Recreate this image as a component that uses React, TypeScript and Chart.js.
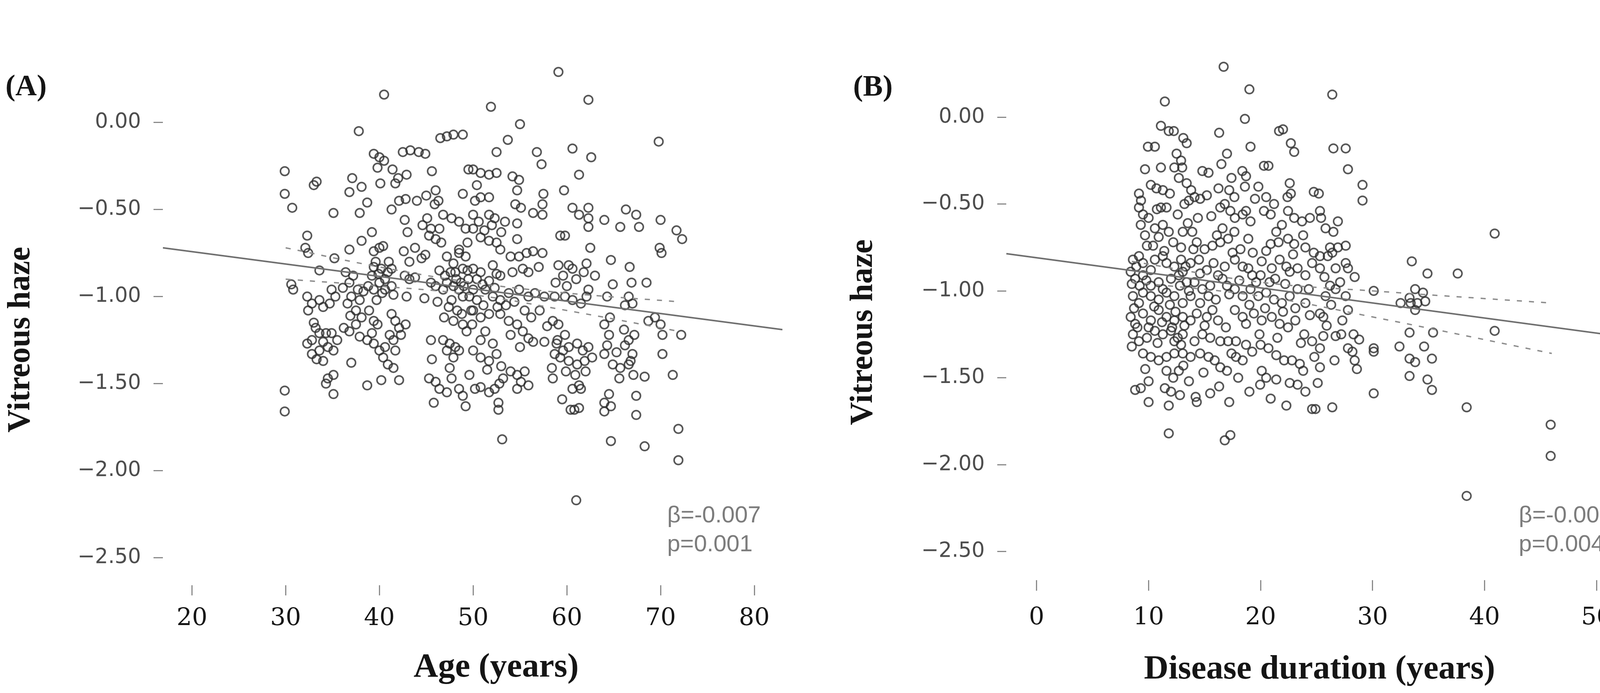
import React, { useEffect, useRef } from "react";
import { Chart, registerables } from "chart.js";

Chart.register(...registerables);

// ---------------- Panel A: Age (years) vs Vitreous haze ----------------
const agePointsA: number[][] = [
  [40.5, 0.16], [37.8, -0.05], [29.9, -0.28], [29.9, -0.41], [30.7, -0.49], [33.3, -0.34], [33.0, -0.36],
  [37.1, -0.32], [36.8, -0.40], [38.1, -0.37], [38.7, -0.46], [37.9, -0.52], [35.1, -0.52], [39.4, -0.18],
  [40.0, -0.20], [39.8, -0.26], [40.5, -0.22], [40.1, -0.35], [41.4, -0.27], [42.0, -0.32], [42.9, -0.30],
  [41.7, -0.35], [42.5, -0.17], [43.3, -0.16], [44.2, -0.17], [44.9, -0.18], [45.6, -0.28], [46.5, -0.09],
  [47.2, -0.08], [47.9, -0.07], [48.9, -0.07], [49.5, -0.27], [48.9, -0.41], [46.0, -0.39], [46.3, -0.45],
  [41.3, -0.50], [42.1, -0.45], [42.8, -0.44], [44.0, -0.45], [42.7, -0.56], [43.0, -0.63], [45.1, -0.55],
  [45.3, -0.65], [46.0, -0.67], [46.4, -0.61], [45.5, -0.61], [46.8, -0.53], [47.7, -0.55], [48.5, -0.57],
  [49.2, -0.61], [49.4, -0.69], [48.5, -0.75], [48.9, -0.84], [32.3, -0.65], [32.1, -0.72], [32.4, -0.75],
  [30.6, -0.93], [30.8, -0.96], [39.2, -0.63], [38.1, -0.68], [36.8, -0.73], [35.2, -0.78], [33.6, -0.85],
  [39.4, -0.74], [40.0, -0.72], [40.4, -0.71], [39.6, -0.80], [40.2, -0.84], [39.2, -0.88], [40.0, -0.92],
  [40.9, -0.86], [41.3, -0.84], [39.4, -0.96], [40.6, -0.96], [41.3, -0.94], [42.6, -0.74], [43.8, -0.72],
  [44.5, -0.78], [44.9, -0.76], [43.2, -0.80], [42.7, -0.88], [43.2, -0.90], [43.8, -0.89], [42.9, -1.00],
  [44.8, -1.01], [46.4, -0.85], [45.5, -0.92], [46.0, -0.94], [46.8, -0.96], [47.2, -0.92], [47.9, -0.94],
  [48.5, -0.96], [48.9, -1.00], [47.7, -1.02], [48.3, -1.08], [47.9, -1.14], [48.9, -1.16], [36.4, -0.86],
  [36.8, -0.92], [37.2, -0.88], [37.7, -0.96], [37.0, -1.00], [37.9, -1.02], [36.6, -1.04], [37.5, -1.08],
  [34.9, -0.96], [35.3, -1.00], [34.7, -1.04], [32.3, -1.00], [32.8, -1.04], [32.4, -1.08], [33.6, -1.02],
  [34.0, -1.06], [33.2, -1.18], [33.6, -1.21], [34.3, -1.21], [34.9, -1.21], [32.8, -1.25], [32.3, -1.27],
  [32.8, -1.33], [33.6, -1.31], [34.5, -1.29], [35.1, -1.31], [34.0, -1.37], [36.2, -1.18], [36.8, -1.20],
  [37.9, -1.23], [38.7, -1.25], [39.4, -1.27], [37.5, -1.16], [38.1, -1.12], [37.0, -1.38], [38.9, -1.08],
  [39.4, -1.14], [39.8, -1.16], [39.2, -1.21], [41.3, -1.10], [41.7, -1.14], [42.1, -1.18], [42.8, -1.16],
  [41.1, -1.22], [41.5, -1.25], [42.3, -1.22], [40.0, -1.31], [40.4, -1.35], [40.9, -1.39], [41.5, -1.41],
  [40.6, -1.29], [41.7, -1.31], [34.5, -1.47], [35.1, -1.45], [34.3, -1.50], [35.1, -1.56], [38.7, -1.51],
  [40.2, -1.48], [42.1, -1.48], [29.9, -1.54], [29.9, -1.66], [45.5, -1.25], [45.6, -1.36], [45.3, -1.47],
  [46.0, -1.49], [46.4, -1.53], [45.8, -1.61], [46.8, -1.25], [47.5, -1.27], [48.1, -1.29], [47.2, -1.31],
  [48.5, -1.31], [47.9, -1.35], [47.5, -1.41], [47.7, -1.47], [48.5, -1.53], [48.9, -1.57], [49.2, -1.63],
  [47.2, -1.55], [46.6, -0.69], [47.2, -0.77], [47.9, -0.81], [48.5, -0.73], [49.2, -0.77], [49.4, -0.85],
  [48.1, -0.86], [48.7, -0.92], [49.6, -1.00], [49.8, -1.08],
  [39.4, -0.83], [39.9, -0.87], [40.6, -0.90], [41.0, -0.80], [40.3, -0.98], [39.7, -1.02], [41.5, -0.99],
  [38.8, -0.94], [47.0, -0.88], [47.6, -0.86], [48.2, -0.90], [49.0, -0.94], [49.5, -0.90], [47.4, -1.06],
  [48.8, -1.10], [49.3, -1.20], [46.2, -1.03], [46.9, -1.12], [45.0, -0.42], [45.9, -0.47], [44.6, -0.59],
  [36.1, -0.95], [38.3, -0.97], [36.9, -1.11], [33.0, -1.15], [34.0, -1.26], [35.5, -1.25], [33.3, -1.36],
  [59.1, 0.29], [62.3, 0.13], [51.9, 0.09], [55.0, -0.01], [53.7, -0.10], [52.5, -0.17], [60.6, -0.15],
  [62.6, -0.20], [56.8, -0.17], [57.3, -0.24], [61.3, -0.30], [69.8, -0.11], [59.7, -0.39], [50.0, -0.27],
  [50.8, -0.29], [51.7, -0.30], [52.5, -0.29], [50.4, -0.36], [50.8, -0.43], [51.7, -0.43], [50.2, -0.45],
  [54.2, -0.31], [54.9, -0.33], [54.7, -0.39], [54.5, -0.47], [55.1, -0.49], [57.5, -0.41], [57.4, -0.47],
  [57.4, -0.53], [56.4, -0.52], [60.6, -0.49], [61.3, -0.53], [62.3, -0.49], [62.3, -0.55], [62.3, -0.60],
  [62.5, -0.72], [64.0, -0.56], [65.7, -0.60], [66.3, -0.50], [67.4, -0.53], [67.7, -0.60], [70.0, -0.56],
  [71.7, -0.62], [72.3, -0.67], [69.9, -0.72], [70.1, -0.75], [59.3, -0.65], [59.8, -0.65], [50.0, -0.53],
  [51.7, -0.53], [52.3, -0.55], [53.4, -0.57], [54.7, -0.58], [50.0, -0.61], [50.8, -0.66], [51.7, -0.68],
  [52.5, -0.69], [52.9, -0.73], [54.7, -0.67], [54.0, -0.77], [54.9, -0.77], [55.7, -0.75], [56.4, -0.74],
  [57.4, -0.75], [50.0, -0.84], [50.8, -0.86], [52.1, -0.82], [52.5, -0.87], [52.9, -0.88], [54.2, -0.86],
  [55.3, -0.84], [55.9, -0.86], [57.0, -0.83], [59.1, -0.82], [59.6, -0.88], [60.2, -0.82], [60.6, -0.84],
  [62.1, -0.81], [64.7, -0.79], [66.7, -0.83], [68.5, -0.92], [66.9, -0.92], [64.9, -0.93], [64.3, -1.00],
  [62.3, -0.96], [62.1, -1.00], [50.0, -0.96], [51.3, -0.96], [52.1, -1.00], [52.9, -1.02], [53.8, -0.98],
  [54.9, -0.96], [55.9, -1.00], [56.6, -0.98], [57.6, -1.00], [58.7, -1.00], [59.8, -1.00], [60.6, -1.02],
  [61.5, -1.04], [66.2, -1.05], [66.6, -1.00], [67.0, -1.04], [68.7, -1.14], [69.4, -1.12], [70.0, -1.16],
  [70.2, -1.22], [72.2, -1.22], [50.0, -1.08], [50.8, -1.12], [51.7, -1.10], [52.9, -1.10], [53.8, -1.14],
  [54.7, -1.16], [54.0, -1.22], [55.3, -1.20], [55.9, -1.24], [56.4, -1.26], [57.6, -1.26], [58.5, -1.14],
  [59.1, -1.16], [59.8, -1.22], [58.9, -1.27], [59.6, -1.31], [60.2, -1.29], [61.1, -1.27], [61.7, -1.31],
  [62.3, -1.29], [62.7, -1.35], [61.9, -1.37], [61.1, -1.39], [60.2, -1.37], [59.3, -1.35], [58.7, -1.33],
  [64.0, -1.16], [64.5, -1.22], [64.3, -1.28], [64.0, -1.33], [64.9, -1.39], [65.7, -1.41], [66.6, -1.39],
  [67.0, -1.33], [66.6, -1.25], [67.2, -1.22], [66.2, -1.28], [66.8, -1.37], [70.2, -1.33], [71.3, -1.45],
  [68.3, -1.46], [50.0, -1.31], [50.8, -1.35], [51.7, -1.37], [52.5, -1.33], [52.1, -1.27], [50.8, -1.25],
  [51.3, -1.20], [49.6, -1.45], [50.2, -1.53], [50.8, -1.52], [51.7, -1.55], [52.3, -1.53], [52.7, -1.61],
  [52.7, -1.65], [53.2, -1.47], [54.0, -1.43], [54.7, -1.45], [55.1, -1.49], [55.5, -1.43], [55.9, -1.51],
  [54.7, -1.53], [58.5, -1.47], [60.6, -1.53], [61.3, -1.51], [61.5, -1.53], [59.5, -1.59], [60.4, -1.65],
  [60.8, -1.65], [61.3, -1.64], [64.0, -1.61], [64.5, -1.56], [64.7, -1.63], [64.0, -1.66], [67.4, -1.57],
  [67.4, -1.68], [53.1, -1.82], [64.7, -1.83], [68.3, -1.86], [71.9, -1.76], [71.9, -1.94], [61.0, -2.17],
  [50.4, -0.90], [51.0, -0.93], [51.7, -0.91], [52.3, -0.95], [50.4, -1.02], [51.1, -1.05], [52.6, -1.06],
  [49.9, -1.16], [53.5, -1.05], [54.4, -1.03], [55.5, -1.08], [56.2, -1.12], [57.1, -1.08], [57.9, -1.17],
  [55.0, -1.29], [58.4, -1.41], [59.9, -1.43], [60.9, -1.45], [62.0, -1.43], [59.0, -1.25], [64.6, -1.12],
  [65.3, -1.32], [66.1, -1.19], [65.6, -1.47], [67.1, -1.45], [58.8, -0.92], [60.0, -0.94], [61.0, -0.90],
  [61.8, -0.86], [63.0, -0.88], [50.6, -0.57], [51.2, -0.62], [53.0, -0.63], [52.0, -0.59], [51.5, -1.42],
  [53.0, -1.40], [52.8, -1.50],
];
const fitXA = [16.9, 83.0];
const fitYA = [-0.72, -1.19];
const ciXA = [30, 40, 50, 60, 72];
const ciUpA = [-0.72, -0.83, -0.92, -0.98, -1.03];
const ciLoA = [-0.90, -0.94, -0.99, -1.08, -1.20];
const xTicksA = [20, 30, 40, 50, 60, 70, 80];
const statsA = ["\u03b2=-0.007", "p=0.001"];

// ---------------- Panel B: Disease duration (years) vs Vitreous haze ----------------
const durationPointsB: number[][] = [
  [16.7, 0.29], [19.0, 0.16], [11.45, 0.09], [18.6, -0.01], [16.3, -0.09], [11.1, -0.05], [11.8, -0.08],
  [12.25, -0.08], [13.1, -0.12], [13.4, -0.15], [9.94, -0.17], [10.56, -0.17], [19.1, -0.17], [21.65, -0.08],
  [22.0, -0.07], [22.7, -0.15], [23.0, -0.20], [17.0, -0.21], [16.5, -0.27], [20.3, -0.28], [20.7, -0.28],
  [12.5, -0.21], [12.9, -0.25], [12.3, -0.29], [13.0, -0.29], [12.7, -0.35], [13.4, -0.38], [13.8, -0.42],
  [13.6, -0.48], [13.2, -0.50], [14.1, -0.46], [14.6, -0.47], [9.68, -0.30], [11.1, -0.29], [14.8, -0.31],
  [15.35, -0.32], [10.2, -0.39], [10.7, -0.41], [11.27, -0.42], [17.4, -0.35], [18.37, -0.31], [18.7, -0.34],
  [18.6, -0.40], [16.24, -0.41], [17.2, -0.42], [17.66, -0.46], [22.6, -0.38], [22.7, -0.44], [24.75, -0.43],
  [9.14, -0.44], [9.32, -0.48], [9.14, -0.52], [9.5, -0.56], [10.74, -0.53], [11.1, -0.52], [11.6, -0.52],
  [16.4, -0.52], [16.8, -0.50], [17.3, -0.54], [17.7, -0.58], [18.4, -0.56], [18.7, -0.54], [19.1, -0.60],
  [20.3, -0.54], [20.9, -0.56], [20.5, -0.46], [21.2, -0.50], [22.45, -0.54], [23.0, -0.58], [23.7, -0.60],
  [24.4, -0.58], [9.3, -0.62], [9.68, -0.68], [9.85, -0.74], [10.56, -0.64], [11.27, -0.62], [11.8, -0.66],
  [16.1, -0.68], [16.4, -0.72], [17.1, -0.70], [16.6, -0.64], [17.66, -0.66], [13.05, -0.66], [13.9, -0.66],
  [14.3, -0.72], [15.0, -0.76], [15.7, -0.74], [17.5, -0.78], [20.9, -0.73], [21.6, -0.72], [22.45, -0.70],
  [23.0, -0.73], [24.0, -0.75], [24.75, -0.78], [8.6, -0.82], [9.14, -0.80], [9.5, -0.84], [10.2, -0.88],
  [10.56, -0.82], [11.27, -0.80], [11.6, -0.84], [12.3, -0.86], [12.9, -0.82], [13.75, -0.84], [14.5, -0.82],
  [15.2, -0.88], [8.4, -0.89], [8.8, -0.93], [9.5, -0.91], [10.2, -0.97], [10.9, -0.95], [11.27, -0.99],
  [12.0, -0.93], [12.7, -0.91], [13.05, -0.89], [13.4, -0.95], [14.1, -0.95], [14.8, -0.99], [15.5, -0.97],
  [16.2, -0.91], [16.6, -0.93], [17.7, -0.82], [18.4, -0.86], [18.9, -0.87], [19.25, -0.91], [20.0, -0.91],
  [20.1, -0.83], [21.0, -0.87], [21.7, -0.82], [22.3, -0.86], [22.6, -0.89], [23.3, -0.87], [24.0, -0.91],
  [24.6, -0.84], [8.6, -1.03], [9.14, -1.07], [9.5, -1.01], [10.2, -1.03], [10.9, -1.05], [11.6, -1.01],
  [12.3, -1.03], [13.05, -1.07], [13.75, -1.03], [14.6, -1.07], [15.35, -1.03], [17.0, -0.97], [17.7, -0.99],
  [18.4, -1.03], [19.1, -0.99], [19.8, -1.03], [20.5, -1.01], [21.2, -1.05], [21.9, -1.07], [22.6, -1.03],
  [23.3, -0.99], [24.0, -1.07], [8.4, -1.15], [8.8, -1.19], [9.5, -1.13], [10.2, -1.17], [10.9, -1.11],
  [11.6, -1.15], [12.3, -1.17], [13.05, -1.15], [13.75, -1.17], [8.6, -1.25], [9.14, -1.29], [9.85, -1.27],
  [10.56, -1.23], [11.27, -1.25], [12.0, -1.23], [12.3, -1.29], [13.05, -1.25], [14.1, -1.29], [14.8, -1.25],
  [15.5, -1.27], [15.2, -1.15], [15.7, -1.11], [16.2, -1.17], [17.7, -1.11], [18.4, -1.15], [18.7, -1.19],
  [19.4, -1.13], [20.1, -1.17], [21.0, -1.15], [21.7, -1.19], [22.45, -1.21], [23.1, -1.17], [23.9, -1.25],
  [24.6, -1.29], [16.4, -1.29], [17.1, -1.29], [17.8, -1.29], [18.7, -1.31], [19.25, -1.35], [20.0, -1.31],
  [20.7, -1.33], [21.4, -1.37], [22.1, -1.40], [22.8, -1.40], [23.5, -1.42], [9.5, -1.36], [10.2, -1.38],
  [10.9, -1.40], [11.6, -1.38], [12.3, -1.36], [13.05, -1.36], [13.75, -1.38], [14.6, -1.36], [15.35, -1.38],
  [15.9, -1.40], [16.4, -1.44], [17.0, -1.46], [17.8, -1.38], [18.4, -1.40], [11.6, -1.46], [12.2, -1.50],
  [12.7, -1.46], [13.6, -1.52], [8.8, -1.57], [9.3, -1.56], [10.0, -1.52], [11.45, -1.56], [12.0, -1.58],
  [11.8, -1.66], [10.0, -1.64], [14.2, -1.61], [14.3, -1.64], [17.2, -1.64], [19.96, -1.54], [20.9, -1.62],
  [21.4, -1.51], [22.3, -1.66], [23.3, -1.54], [24.0, -1.58], [24.6, -1.68], [20.1, -1.46], [20.5, -1.50],
  [11.8, -1.82], [16.8, -1.86], [17.3, -1.83],
  [8.5, -0.96], [8.9, -0.86], [9.2, -0.97], [8.7, -1.10], [9.0, -1.21], [8.5, -1.32], [9.8, -0.94],
  [10.5, -1.09], [10.0, -1.21], [10.8, -1.30], [11.2, -1.18], [11.9, -1.08], [12.1, -1.21], [12.6, -1.27],
  [12.9, -1.31], [12.4, -1.12], [12.8, -0.97], [13.3, -0.86], [13.6, -1.00], [13.2, -1.20], [14.3, -1.13],
  [14.0, -0.76], [13.5, -0.61], [12.6, -0.56], [11.9, -0.44], [10.4, -0.74], [10.9, -0.69], [11.4, -0.77],
  [12.2, -0.72], [12.9, -0.75], [14.6, -0.90], [15.0, -1.20], [15.8, -0.84], [16.0, -1.05], [16.8, -0.86],
  [17.2, -1.02], [16.9, -1.21], [17.4, -1.36], [18.1, -0.94], [18.2, -0.76], [18.9, -0.70], [19.3, -0.78],
  [19.6, -0.95], [19.0, -1.08], [19.9, -1.25], [20.4, -1.10], [20.8, -0.95], [20.5, -0.77], [21.4, -0.66],
  [21.3, -0.93], [21.5, -1.27], [22.0, -1.12], [22.2, -0.96], [22.9, -0.79], [23.1, -1.10], [23.6, -1.30],
  [23.8, -0.68], [24.3, -0.99], [24.4, -1.14], [24.8, -1.38], [21.9, -0.62], [22.4, -0.46], [19.8, -0.40],
  [19.5, -0.47], [15.6, -0.57], [15.2, -0.45], [14.4, -0.58], [10.0, -0.58], [9.7, -1.45], [13.1, -1.43],
  [14.9, -1.47], [16.3, -1.55], [18.0, -1.50], [19.0, -1.58], [22.6, -1.53], [23.8, -1.46], [15.5, -1.59],
  [12.8, -1.60],
  [26.4, 0.13], [26.5, -0.18], [27.6, -0.18], [27.8, -0.30], [29.1, -0.39], [29.1, -0.48], [25.2, -0.44],
  [25.3, -0.54], [25.4, -0.58], [25.8, -0.64], [26.5, -0.66], [26.2, -0.75], [26.9, -0.75], [27.6, -0.74],
  [25.3, -0.80], [26.0, -0.80], [26.4, -0.78], [27.6, -0.84], [27.8, -0.87], [28.4, -0.92], [26.7, -0.87],
  [25.3, -0.87], [26.2, -0.97], [26.7, -0.99], [27.6, -1.03], [27.8, -1.11], [25.8, -1.03], [25.3, -1.13],
  [25.6, -1.15], [40.9, -0.67], [33.5, -0.83], [34.9, -0.90], [37.6, -0.90], [30.1, -1.00], [32.5, -1.07],
  [33.3, -1.04], [33.8, -0.99], [34.0, -1.07], [34.5, -1.01], [34.7, -1.06], [33.8, -1.11], [33.4, -1.07],
  [33.3, -1.24], [35.4, -1.24], [40.9, -1.23], [32.4, -1.32], [34.6, -1.32], [30.1, -1.33], [30.1, -1.35],
  [27.8, -1.33], [28.2, -1.35], [28.4, -1.40], [28.6, -1.45], [26.6, -1.40], [25.3, -1.44], [25.1, -1.53],
  [26.4, -1.67], [24.9, -1.68], [27.2, -1.25], [28.3, -1.25], [26.7, -1.26], [25.6, -1.26], [25.3, -1.33],
  [33.3, -1.39], [33.8, -1.41], [35.3, -1.39], [33.3, -1.49], [34.9, -1.51], [35.3, -1.57], [30.1, -1.59],
  [38.4, -1.67], [45.9, -1.77], [45.9, -1.95], [38.4, -2.18], [25.7, -0.92], [26.3, -1.08], [27.1, -0.95],
  [25.9, -1.20], [27.3, -1.17], [26.9, -0.60], [28.8, -1.28],
];
const fitXB = [-2.7, 53.1];
const fitYB = [-0.786, -1.27];
const ciXB = [8.5, 20, 30, 46];
const ciUpB = [-0.83, -0.95, -1.0, -1.07];
const ciLoB = [-0.95, -1.03, -1.15, -1.36];
const xTicksB = [0, 10, 20, 30, 40, 50];
const statsB = ["\u03b2=-0.009", "p=0.004"];

const yTicks = [0, -0.5, -1, -1.5, -2, -2.5];

type Spec = {
  left: number;
  width: number;
  points: number[][];
  fitX: number[];
  fitY: number[];
  ciX: number[];
  ciUp: number[];
  ciLo: number[];
  xMin: number;
  xMax: number;
  yMin: number;
  yMax: number;
  xTicks: number[];
  area: { left: number; right: number; top: number; bottom: number };
  xTick: { len: number; pad: number };
  yTick: { len: number; pad: number };
  label: string;
  labelPos: [number, number];
  yTitlePos: [number, number];
  xTitle: string;
  xTitlePos: [number, number];
  stats: string[];
  statsPos: [number, number, number];
};

const H = 1775;

const specA: Spec = {
  left: 0,
  width: 2100,
  points: agePointsA,
  fitX: fitXA,
  fitY: fitYA,
  ciX: ciXA,
  ciUp: ciUpA,
  ciLo: ciLoA,
  xMin: 16.9,
  xMax: 83.0,
  yMin: -2.658,
  yMax: 0.396,
  xTicks: xTicksA,
  area: { left: 417, right: 2003, top: 137, bottom: 1499 },
  xTick: { len: 26, pad: 23 },
  yTick: { len: 24, pad: 32 },
  label: "(A)",
  labelPos: [14, 244],
  yTitlePos: [54, 870],
  xTitle: "Age (years)",
  xTitlePos: [1270, 1733],
  stats: statsA,
  statsPos: [1708, 1338, 1412],
};

const specB: Spec = {
  left: 2100,
  width: 2090,
  points: durationPointsB,
  fitX: fitXB,
  fitY: fitYB,
  ciX: ciXB,
  ciUp: ciUpB,
  ciLo: ciLoB,
  xMin: -2.71,
  xMax: 53.06,
  yMin: -2.665,
  yMax: 0.508,
  xTicks: xTicksB,
  area: { left: 476, right: 2080, top: 74, bottom: 1486 },
  xTick: { len: 27, pad: 33 },
  yTick: { len: 23, pad: 32 },
  label: "(B)",
  labelPos: [84, 245],
  yTitlePos: [111, 851],
  xTitle: "Disease duration (years)",
  xTitlePos: [1278, 1738],
  stats: statsB,
  statsPos: [1788, 1338, 1412],
};

function fmtY(v: number): string {
  if (v === 0) return "0.00";
  return (v < 0 ? "\u2212" : "") + Math.abs(v).toFixed(2);
}

function Panel({ spec }: { spec: Spec }) {
  const ref = useRef<HTMLCanvasElement | null>(null);

  useEffect(() => {
    const canvas = ref.current;
    if (!canvas) return;
    const s = spec;
    const textPlugin = {
      id: "panelText",
      afterDraw(chart: any) {
        const ctx = chart.ctx as CanvasRenderingContext2D;
        ctx.save();
        ctx.fillStyle = "#151515";
        ctx.textBaseline = "alphabetic";
        ctx.textAlign = "left";
        ctx.font = 'bold 76px "Liberation Serif"';
        ctx.fillText(s.label, s.labelPos[0], s.labelPos[1]);

        ctx.textAlign = "center";
        ctx.font = 'bold 87px "Liberation Serif"';
        ctx.fillText(s.xTitle, s.xTitlePos[0], s.xTitlePos[1]);

        ctx.save();
        ctx.translate(s.yTitlePos[0], s.yTitlePos[1]);
        ctx.rotate(-Math.PI / 2);
        ctx.textBaseline = "middle";
        ctx.font = 'bold 82px "Liberation Serif"';
        ctx.fillText("Vitreous haze", 0, 0);
        ctx.restore();

        ctx.textAlign = "left";
        ctx.textBaseline = "alphabetic";
        ctx.fillStyle = "#7c7c7c";
        ctx.font = '60px "Liberation Sans"';
        ctx.fillText(s.stats[0], s.statsPos[0], s.statsPos[1]);
        ctx.fillText(s.stats[1], s.statsPos[0], s.statsPos[2]);
        ctx.restore();
      },
    };

    const toXY = (xs: number[], ys: number[]) => xs.map((x, i) => ({ x, y: ys[i] }));

    const chart = new Chart(canvas, {
      type: "scatter",
      data: {
        datasets: [
          {
            data: toXY(s.fitX, s.fitY),
            showLine: true,
            borderColor: "#6f6f6f",
            borderWidth: 4,
            pointRadius: 0,
            fill: false,
          } as any,
          {
            data: toXY(s.ciX, s.ciUp),
            showLine: true,
            borderColor: "#8c8c8c",
            borderWidth: 3.5,
            borderDash: [13, 18],
            tension: 0.4,
            pointRadius: 0,
            fill: false,
          } as any,
          {
            data: toXY(s.ciX, s.ciLo),
            showLine: true,
            borderColor: "#8c8c8c",
            borderWidth: 3.5,
            borderDash: [13, 18],
            tension: 0.4,
            pointRadius: 0,
            fill: false,
          } as any,
          {
            data: s.points.map(([x, y]) => ({ x, y })),
            showLine: false,
            pointStyle: "circle",
            pointRadius: 11,
            pointBorderWidth: 4,
            borderWidth: 4,
            pointBackgroundColor: "rgba(0,0,0,0)",
            backgroundColor: "rgba(0,0,0,0)",
            pointBorderColor: "rgba(45,45,45,0.8)",
            borderColor: "rgba(45,45,45,0.8)",
          } as any,
        ],
      },
      options: {
        animation: false,
        responsive: false,
        devicePixelRatio: 1,
        events: [],
        layout: {
          padding: { left: 0, top: s.area.top, right: s.width - s.area.right, bottom: 0 },
        },
        plugins: {
          legend: { display: false },
          tooltip: { enabled: false },
          title: { display: false },
        },
        scales: {
          x: {
            type: "linear",
            min: s.xMin,
            max: s.xMax,
            afterFit: (scale: any) => {
              scale.height = H - s.area.bottom;
            },
            afterBuildTicks: (scale: any) => {
              scale.ticks = s.xTicks.map((v) => ({ value: v }));
            },
            border: { display: false },
            grid: {
              display: true,
              drawOnChartArea: false,
              drawTicks: true,
              tickLength: s.xTick.len,
              tickColor: "#8a8a8a",
              tickWidth: 3,
              lineWidth: 3,
            },
            ticks: {
              autoSkip: false,
              maxRotation: 0,
              padding: s.xTick.pad,
              color: "#151515",
              font: { family: "DejaVu Serif", size: 62 },
              callback: (v: any) => String(v),
            },
          },
          y: {
            type: "linear",
            min: s.yMin,
            max: s.yMax,
            afterFit: (scale: any) => {
              scale.width = s.area.left;
            },
            afterBuildTicks: (scale: any) => {
              scale.ticks = yTicks.map((v) => ({ value: v }));
            },
            border: { display: false },
            grid: {
              display: true,
              drawOnChartArea: false,
              drawTicks: true,
              tickLength: s.yTick.len,
              tickColor: "#8a8a8a",
              tickWidth: 3,
              lineWidth: 3,
            },
            ticks: {
              autoSkip: false,
              padding: s.yTick.pad,
              color: "#4d4d4d",
              font: { family: "DejaVu Sans", size: 53 },
              callback: (v: any) => fmtY(Number(v)),
            },
          },
        },
      },
      plugins: [textPlugin],
    });
    return () => chart.destroy();
  }, [spec]);

  return (
    <canvas
      ref={ref}
      width={spec.width}
      height={H}
      style={{ position: "absolute", left: spec.left, top: 0, width: spec.width, height: H, display: "block" }}
    />
  );
}

export default function App() {
  return (
    <div
      style={{
        position: "absolute",
        left: 0,
        top: 0,
        width: 4190,
        height: H,
        background: "#ffffff",
        overflow: "hidden",
      }}
    >
      <Panel spec={specA} />
      <Panel spec={specB} />
    </div>
  );
}
